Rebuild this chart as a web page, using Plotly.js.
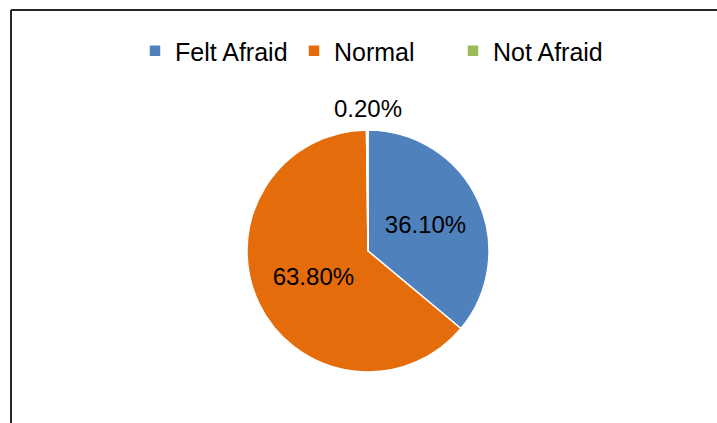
<!DOCTYPE html>
<html>
<head>
<meta charset="utf-8">
<script src="https://cdn.plot.ly/plotly-3.0.1.min.js"></script>
<style>html,body{margin:0;padding:0;background:#fff;}#chart{width:717px;height:423px;}</style>
</head>
<body>
<div id="chart"></div>
<script>
const categories = ["Felt Afraid", "Normal", "Not Afraid"];
const values = [36.1, 63.8, 0.2];
const labelsText = ["36.10%", "63.80%", "0.20%"];
const sliceColors = ["#4F81BD", "#E46C0A", "#9BBB59"];

const W = 717, H = 423;
const cx = 368, cy = 251, r = 121;
const FONT = "Liberation Sans, Arial, sans-serif";

const trace = {
  type: "pie",
  labels: categories,
  values: values,
  text: labelsText.map((t, i) => i === 2 ? "" : t),
  textinfo: "text",
  textposition: ["inside", "inside", "none"],
  insidetextorientation: "horizontal",
  sort: false,
  direction: "clockwise",
  rotation: 0,
  marker: { colors: sliceColors, line: { color: "#ffffff", width: 1.5 } },
  textfont: { family: FONT, size: 24, color: "#000000" },
  insidetextfont: { family: FONT, size: 24, color: "#000000" },
  automargin: false,
  domain: { x: [(cx - r) / W, (cx + r) / W], y: [1 - (cy + r) / H, 1 - (cy - r) / H] },
  hoverinfo: "label+percent"
};

const dom = trace.domain;

const layout = {
  width: W, height: H,
  margin: { l: 0, r: 0, t: 0, b: 0 },
  paper_bgcolor: "#ffffff",
  showlegend: true,
  legend: {
    orientation: "h",
    x: 135 / W, xanchor: "left",
    y: 1 - 28 / H, yanchor: "top",
    font: { family: FONT, size: 25, color: "#000000" },
    entrywidth: 114, entrywidthmode: "pixels",
    itemclick: false, itemdoubleclick: false,
    traceorder: "normal"
  },
  annotations: [
    { xref: "paper", yref: "paper", x: (dom.x[0] + dom.x[1]) / 2, y: dom.y[1], yshift: 6,
      xanchor: "center", yanchor: "bottom", showarrow: false, text: labelsText[2],
      font: { family: FONT, size: 24, color: "#000000" } }
  ],
  shapes: [
    { type: "line", xref: "paper", yref: "paper", x0: 11 / W, x1: 11 / W, y0: 0, y1: 1 - 10 / H, line: { color: "#262626", width: 2 } },
    { type: "line", xref: "paper", yref: "paper", x0: 11 / W, x1: 1, y0: 1 - 10 / H, y1: 1 - 10 / H, line: { color: "#262626", width: 2 } }
  ]
};

Plotly.newPlot("chart", [trace], layout, { staticPlot: true, displayModeBar: false });
</script>
</body>
</html>
